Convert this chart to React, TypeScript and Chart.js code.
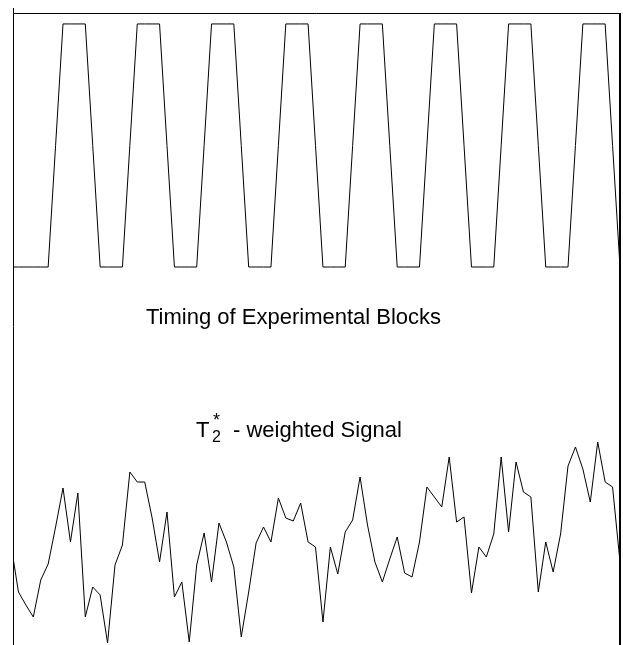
import React, { useEffect, useRef } from "react";
import { Chart, registerables } from "chart.js";

Chart.register(...registerables);

// Scan (time point) range shown on the x axis
const SCAN_MIN = 0.4;
const SCAN_MAX = 82;

// Block design regressor: 0 = rest, 1 = task (per scan)
const TIMING = [
  0, 0, 0, 0, 0, 0, 0.5, 1, 1, 1,
  1, 0.5, 0, 0, 0, 0, 0.5, 1, 1, 1,
  1, 0.5, 0, 0, 0, 0, 0.5, 1, 1, 1,
  1, 0.5, 0, 0, 0, 0, 0.5, 1, 1, 1,
  1, 0.5, 0, 0, 0, 0, 0.5, 1, 1, 1,
  1, 0.5, 0, 0, 0, 0, 0.5, 1, 1, 1,
  1, 0.5, 0, 0, 0, 0, 0.5, 1, 1, 1,
  1, 0.5, 0, 0, 0, 0, 0.5, 1, 1, 1,
  1, 0.5, 0,
];

// T2*-weighted signal (arbitrary units, per scan)
const SIGNAL = [
  50, 26.5, 20, 14, 32.5, 40.5, 59, 78.5, 51.5, 76,
  14, 29, 25, 1, 40, 50, 86.5, 81.5, 81.5, 63.5,
  41.5, 66.5, 24, 31.5, 1.5, 40, 56, 31.5, 61, 51.5,
  39, 4, 26.5, 51, 59, 51.5, 73.5, 63.5, 62, 71,
  51.5, 49, 11.5, 49, 35.5, 56.5, 62.5, 84, 60, 41.5,
  31.5, 43, 54, 36, 34, 51.5, 79, 74, 69, 94,
  61.5, 64, 26, 49, 44, 55.5, 94, 56.5, 91.5, 76.5,
  74, 26.5, 51.5, 36.5, 55.5, 89.5, 99, 88, 71.5, 101.5,
  81.5, 79, 41.5,
];

// Axis ranges for the two stacked traces
const TIMING_MIN = -1.555;
const TIMING_MAX = 1.045;
const SIGNAL_MIN = 0;
const SIGNAL_MAX = 316;

const BLOCK_LABEL = "Timing of Experimental Blocks";
const SIGNAL_LABEL_T = "T";
const SIGNAL_LABEL_SUB = "2";
const SIGNAL_LABEL_SUP = "*";
const SIGNAL_LABEL_REST = "- weighted Signal";

const FONT = '"Liberation Sans", Arial, Helvetica, sans-serif';

const framePlugin = {
  id: "frameAndLabels",
  afterDraw(chart: any) {
    const { ctx, chartArea: a } = chart;
    ctx.save();
    ctx.strokeStyle = "#000";
    ctx.lineWidth = 1;
    ctx.beginPath();
    ctx.moveTo(a.left - 0.5, a.top - 5);
    ctx.lineTo(a.left - 0.5, a.bottom);
    ctx.moveTo(a.left - 1, a.top + 0.5);
    ctx.lineTo(a.right, a.top + 0.5);
    ctx.stroke();
    ctx.lineWidth = 2;
    ctx.beginPath();
    ctx.moveTo(a.right, a.top);
    ctx.lineTo(a.right, a.bottom);
    ctx.stroke();

    ctx.fillStyle = "#000";
    ctx.textAlign = "left";
    ctx.textBaseline = "alphabetic";
    ctx.font = `22px ${FONT}`;
    ctx.fillText(BLOCK_LABEL, 146, 324);

    ctx.fillText(SIGNAL_LABEL_T, 196, 437);
    ctx.fillText(SIGNAL_LABEL_REST, 233, 437);
    ctx.font = `16px ${FONT}`;
    ctx.fillText(SIGNAL_LABEL_SUB, 212, 442);
    ctx.font = `18px ${FONT}`;
    ctx.fillText(SIGNAL_LABEL_SUP, 213, 426);
    ctx.restore();
  },
};

export default function App() {
  const ref = useRef<HTMLCanvasElement | null>(null);

  useEffect(() => {
    if (!ref.current) return;
    const scans = SIGNAL.map((_, i) => i);
    const chart = new Chart(ref.current, {
      type: "line",
      data: {
        datasets: [
          {
            label: "Timing",
            data: scans.map((s, i) => ({ x: s, y: TIMING[i] })),
            yAxisID: "yTiming",
            borderColor: "#000",
            borderWidth: 1,
            pointRadius: 0,
            tension: 0,
            fill: false,
          },
          {
            label: "Signal",
            data: scans.map((s, i) => ({ x: s, y: SIGNAL[i] })),
            yAxisID: "ySignal",
            borderColor: "#000",
            borderWidth: 1,
            pointRadius: 0,
            tension: 0,
            fill: false,
          },
        ],
      },
      options: {
        responsive: false,
        animation: false,
        devicePixelRatio: 1,
        layout: { padding: { left: 14, right: 3, top: 13, bottom: 0 } },
        plugins: {
          legend: { display: false },
          tooltip: { enabled: false },
          title: { display: false },
        },
        scales: {
          x: { type: "linear", min: SCAN_MIN, max: SCAN_MAX, display: false },
          yTiming: { type: "linear", min: TIMING_MIN, max: TIMING_MAX, display: false },
          ySignal: { type: "linear", min: SIGNAL_MIN, max: SIGNAL_MAX, display: false },
        },
      },
      plugins: [framePlugin],
    });
    return () => chart.destroy();
  }, []);

  return (
    <div style={{ position: "absolute", left: 0, top: 0, width: 623, height: 645, background: "#fff" }}>
      <canvas ref={ref} width={623} height={645} />
    </div>
  );
}
